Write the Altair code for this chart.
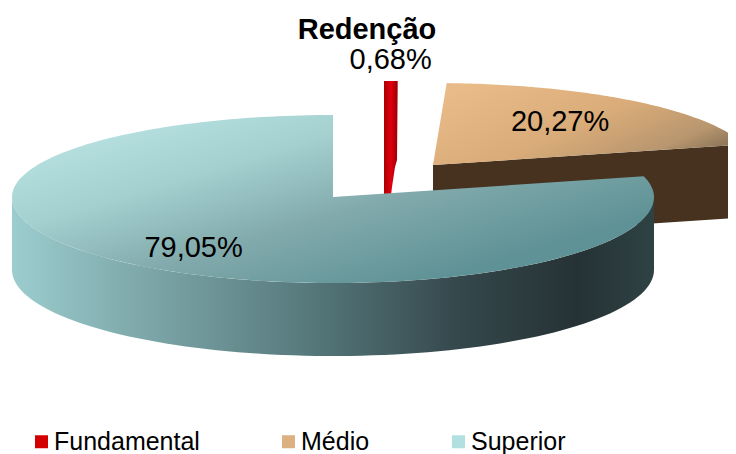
import numpy as np
import pandas as pd
import altair as alt

categories = ["Fundamental", "Médio", "Superior"]
shares = [0.68, 20.27, 79.05]
labels = ["0,68%", "20,27%", "79,05%"]
legend_colors = ["#d40000", "#dcb080", "#b2e0e0"]
title_text = "Redenção"

RX, RY, RY_LOW, DEPTH = 321.0, 82.0, 86.0, 73.0
centers = {"Fundamental": (384.0, 163.0), "Médio": (433.0, 165.0), "Superior": (333.0, 197.0)}
label_f = {"Fundamental": 1.26, "Médio": 0.63, "Superior": 0.71}
label_shift = {"Fundamental": (-2, 0), "Médio": (0, -3), "Superior": (0, 3)}

edges = np.cumsum([0.0] + shares) * 3.6


def rim(cat, a0, a1, n=90, drop=0.0):
    cx, cy = centers[cat]
    t = np.radians(np.linspace(a0, a1, n))
    c = np.cos(t)
    ry = np.where(c >= 0, RY, RY_LOW)
    return list(cx + RX * np.sin(t)), list(cy - ry * c + drop)


def frame(xs, ys):
    return pd.DataFrame({"x": xs, "y": ys, "i": range(len(xs))})


X = alt.X("x:Q", scale=alt.Scale(domain=[8, 728], nice=False), axis=None)
Y = alt.Y("y:Q", scale=alt.Scale(domain=[454, 8], nice=False), axis=None)


def grad(stops, x1=0.0, y1=0.0, x2=1.0, y2=0.0):
    return alt.Gradient(
        gradient="linear", x1=x1, y1=y1, x2=x2, y2=y2,
        stops=[alt.GradientStop(color=c, offset=o) for o, c in stops],
    )


def poly(xs, ys, fill):
    return alt.Chart(frame(xs, ys)).mark_line(fill=fill, strokeWidth=0, stroke="transparent", clip=True).encode(
        x=X, y=Y, order="i:Q"
    )


# Médio: cut wall, then top
a0, a1 = edges[1], edges[2]
cx, cy = centers["Médio"]
mx, my = rim("Médio", a0, a1)
medio_side = poly([cx, mx[-1], mx[-1], cx], [cy, my[-1], my[-1] + DEPTH, cy + DEPTH], "#46321f")
medio_top = poly([cx] + mx, [cy] + my, grad(
    [(0, "#e9bb88"), (0.5, "#d8ab78"), (0.8, "#b8966f"), (1, "#7d6a50")], 0, 0.2, 1, 0.8))

# Fundamental: thin wedge and its cut wall
a0, a1 = edges[0], edges[1]
cx, cy = centers["Fundamental"]
fx, fy = rim("Fundamental", a0, a1, n=6)
fund = poly([cx] + fx + [cx + 13, cx + 11, cx + 8, cx + 7],
            [cy + 32] + fy + [cy - 3, cy + 4, cy + 24, cy + 32],
            grad([(0, "#a80000"), (0.5, "#e00010"), (1, "#980000")]))

# Superior: side, then top
a0, a1 = edges[2], 360.0
cx, cy = centers["Superior"]
stx, sty = rim("Superior", 90, 270)
sbx, sby = rim("Superior", 270, 90, drop=DEPTH)
sup_side = poly(stx + sbx, sty + sby, grad(
    [(0, "#9ccdce"), (0.2, "#7ea8aa"), (0.45, "#587b7e"), (0.7, "#34474b"), (0.88, "#263235"), (1, "#2e4244")]))
tx, ty = rim("Superior", a0, a1, n=200)
sup_top = poly([cx] + tx, [cy] + ty, grad(
    [(0, "#bde6e6"), (0.35, "#a4d0d0"), (0.65, "#82aaac"), (1, "#5f9296")], 0.1, 0, 0.9, 0.7))

# Value labels placed along each slice's bisector
rows = []
for k, cat in enumerate(categories):
    mid = np.radians((edges[k] + edges[k + 1]) / 2)
    ccx, ccy = centers[cat]
    ry = RY if np.cos(mid) >= 0 else RY_LOW
    f = label_f[cat]
    sx, sy = label_shift[cat]
    rows.append({"x": ccx + RX * np.sin(mid) * f + sx, "y": ccy - ry * np.cos(mid) * f + sy, "t": labels[k]})
value_text = alt.Chart(pd.DataFrame(rows)).mark_text(
    font="Liberation Sans", fontSize=29, color="#000000", align="center", baseline="middle"
).encode(x=X, y=Y, text="t:N")

title = alt.Chart(pd.DataFrame({"x": [367], "y": [30], "t": [title_text]})).mark_text(
    font="Liberation Sans", fontSize=29, fontWeight="bold", color="#000000", align="center", baseline="middle"
).encode(x=X, y=Y, text="t:N")

legend_src = alt.Chart(pd.DataFrame({"c": categories, "x": [100, 100, 100], "y": [100, 100, 100]})).mark_square(
    size=0, opacity=1
).encode(
    x=X, y=Y,
    color=alt.Color("c:N", sort=categories,
                    scale=alt.Scale(domain=categories, range=legend_colors),
                    legend=alt.Legend(
                        orient="none", legendX=21, legendY=421, direction="horizontal", columns=3,
                        title=None, symbolType="square", symbolSize=169, symbolStrokeWidth=0,
                        symbolOpacity=1, labelFont="Liberation Sans", labelFontSize=25,
                        labelColor="#000000", columnPadding=76, labelOffset=0, labelLimit=0, padding=0,
                    )),
)

chart = alt.layer(medio_side, medio_top, fund, sup_side, sup_top, value_text, title, legend_src).properties(
    width=720, height=446, padding=0, autosize=alt.AutoSizeParams(type="none"),
    background="#ffffff",
).configure_view(stroke=None)

chart.save("out.html", embed_options={"renderer": "svg", "actions": False})
